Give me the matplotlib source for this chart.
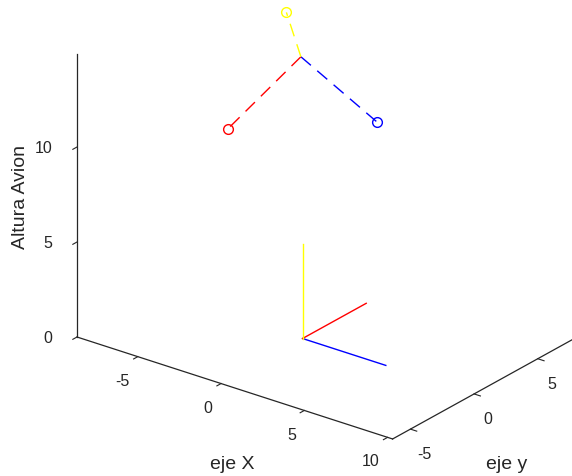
import numpy as np
import matplotlib
matplotlib.use("Agg")
import matplotlib.pyplot as plt
from mpl_toolkits.mplot3d import proj3d

plt.rcParams['font.family'] = ['Liberation Sans', 'DejaVu Sans']
plt.rcParams['axes.unicode_minus'] = False

# =============================
# Data
# =============================
XLIM = (-8.65, 10.3)
YLIM = (-6.4, 10.0)
ZLIM = (0.0, 14.9)
X_TICKS = [-5, 0, 5, 10]
Y_TICKS = [-5, 0, 5]
Z_TICKS = [0, 5, 10]

# fixed frame at the origin
ORIGEN = [0.0, 0.0, 0.0]
LARGO_EJE = 5.0

# airplane position and the ends of its own (rotated) axes
AVION = [-0.1, 0.0, 14.8]
AVION_EJE_X = [2.9, 2.05, 11.46]
AVION_EJE_Y = [-2.84, -2.14, 11.03]
AVION_EJE_Z = [-3.6, 3.44, 14.87]

AXIS_COLOR = '#262626'
DASH = (0, (9.5, 6))

# =============================
# Figure
# =============================
W, H = 572, 477
fig = plt.figure(figsize=(W / 100, H / 100), dpi=100)
ax = fig.add_axes([0, 0, 1, 1], projection='3d')

# origin frame
ox, oy, oz = ORIGEN
ax.plot([ox, ox + LARGO_EJE], [oy, oy], [oz, oz], color='blue', lw=1)
ax.plot([ox, ox], [oy, oy + LARGO_EJE], [oz, oz], color='red', lw=1)
ax.plot([ox, ox], [oy, oy], [oz, oz + LARGO_EJE], color='yellow', lw=1)

# airplane frame
for end, col in [(AVION_EJE_X, 'blue'), (AVION_EJE_Y, 'red'), (AVION_EJE_Z, 'yellow')]:
    ax.plot([AVION[0], end[0]], [AVION[1], end[1]], [AVION[2], end[2]],
            color=col, lw=1, linestyle=DASH)
    ax.plot([end[0]], [end[1]], [end[2]], 'o', color=col, mfc='none',
            ms=7, mew=1)

ax.set_xlim(*XLIM)
ax.set_ylim(*YLIM)
ax.set_zlim(*ZLIM)
ax.set_xticks(X_TICKS)
ax.set_yticks(Y_TICKS)
ax.set_zticks(Z_TICKS)

ax.set_proj_type('ortho')
ax.view_init(elev=25, azim=-52.6)
ax.set_box_aspect((XLIM[1] - XLIM[0], YLIM[1] - YLIM[0], ZLIM[1] - ZLIM[0]))
ax.grid(False)

# z axis on the left corner, like MATLAB
ax.zaxis.set_ticks_position('lower')
ax.zaxis.set_label_position('lower')

for axis in (ax.xaxis, ax.yaxis, ax.zaxis):
    axis.set_pane_color((1, 1, 1, 0))
    axis.pane.set_edgecolor((1, 1, 1, 0))
    axis.line.set_color(AXIS_COLOR)
    axis.line.set_linewidth(0.9)
    axis._axinfo['tick']['inward_factor'] = 0.25
    axis._axinfo['tick']['outward_factor'] = 0.0
    axis._axinfo['tick']['linewidth'] = {True: 0.8, False: 0.5}

ax.tick_params(axis='x', colors=AXIS_COLOR, labelsize=11.5, pad=1)
ax.tick_params(axis='y', colors=AXIS_COLOR, labelsize=11.5, pad=2)
ax.tick_params(axis='z', colors=AXIS_COLOR, labelsize=11.5, pad=2.5)
plt.setp(ax.get_xticklabels(), ha='right')
plt.setp(ax.get_zticklabels(), ha='right', va='center')

# axis labels, placed as in the original figure
lab = dict(fontsize=14, color=AXIS_COLOR)
fig.text(232 / W, 1 - 469 / H, 'eje X', ha='center', va='baseline', **lab)
fig.text(507 / W, 1 - 469 / H, 'eje y', ha='center', va='baseline', **lab)
fig.text(21 / W, 1 - 197.5 / H, 'Altura Avion', ha='center', va='center',
         rotation=90, **lab)

# =============================
# Place the box so it matches the target layout
# =============================
target0 = np.array([77.0, H - 338.0])     # (xmin, ymin, 0)
target_len = 190.0                        # pixels from z=0 to z=10


def to_px(x, y, z):
    xs, ys, _ = proj3d.proj_transform(x, y, z, ax.get_proj())
    return ax.transData.transform((xs, ys))


for _ in range(3):
    fig.canvas.draw()
    p0 = to_px(XLIM[0], YLIM[0], 0)
    p1 = to_px(XLIM[0], YLIM[0], 10)
    k = target_len / np.hypot(*(p1 - p0))
    l, b, w, h = ax.get_position(original=True).bounds
    cx, cy = l + w / 2, b + h / 2
    w, h = w * k, h * k
    ax.set_position([cx - w / 2, cy - h / 2, w, h])
    fig.canvas.draw()
    p0 = to_px(XLIM[0], YLIM[0], 0)
    dx = (target0[0] - p0[0]) / fig.bbox.width
    dy = (target0[1] - p0[1]) / fig.bbox.height
    l, b, w, h = ax.get_position(original=True).bounds
    ax.set_position([l + dx, b + dy, w, h])

fig.savefig('out.png', dpi=100)
